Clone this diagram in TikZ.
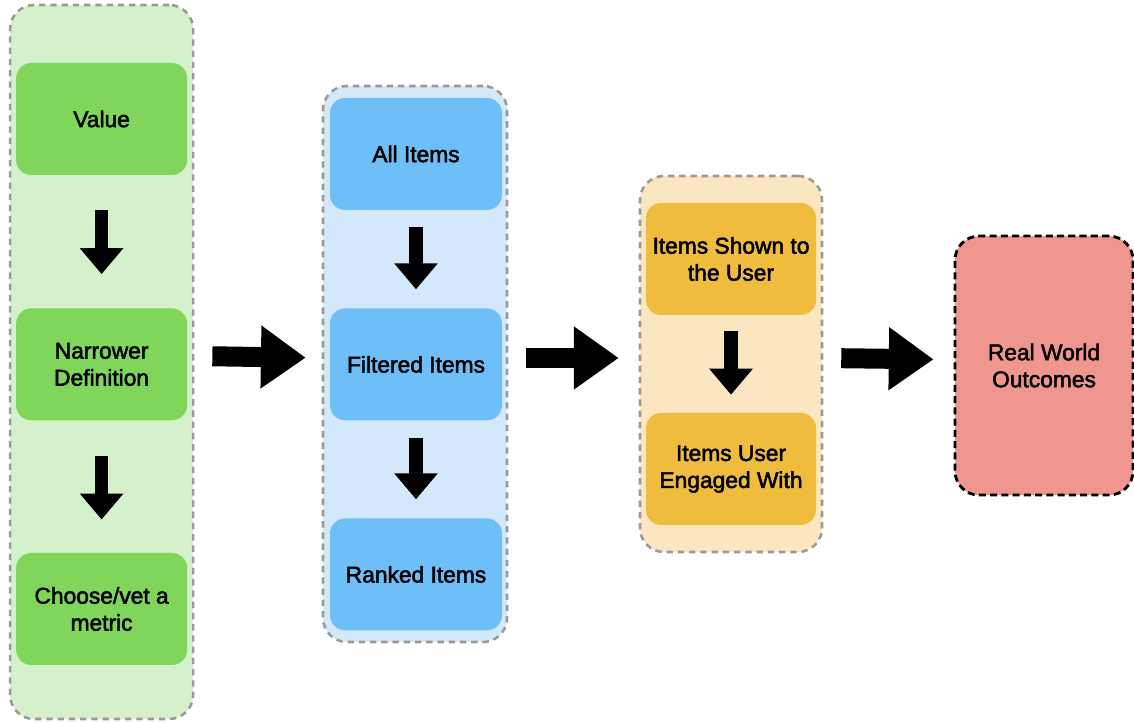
\documentclass[tikz,border=0pt]{standalone}
\usepackage{fontspec}
\setmainfont{Liberation Sans}
\newfontfamily\boxfont{Liberation Sans}[UprightFeatures={FakeBold=2.2}]
\usetikzlibrary{arrows.meta}
\definecolor{greenbg}{HTML}{D5F1CB}
\definecolor{greenbox}{HTML}{7FD65A}
\definecolor{bluebg}{HTML}{D4E8FB}
\definecolor{bluebox}{HTML}{6EBEF8}
\definecolor{orangebg}{HTML}{FAE6C0}
\definecolor{orangebox}{HTML}{EFBC3E}
\definecolor{redbox}{HTML}{EF978E}
\definecolor{dashgray}{HTML}{9A9A9A}
\begin{document}
\begin{tikzpicture}
\tikzstyle{group} = [draw=dashgray, line width=1.8pt, dash pattern=on 4.5pt off 3.5pt, rounded corners=0.6cm] % dashed container
\tikzstyle{stepbox} = [rounded corners=0.38cm, align=center, font=\boxfont\fontsize{16.2}{19.2}\selectfont] % inner box
\tikzstyle{downarrow} = [line width=0.33cm, -{Triangle[length=0.65cm, width=1.05cm]}] % arrow inside a group
\tikzstyle{rightarrow} = [line width=0.5cm, -{Triangle[length=1.12cm, width=1.5cm]}] % arrow between groups
\useasboundingbox (0,0) rectangle (28.35,18.05);

% groups
\node[group, fill=greenbg, minimum width=4.575cm, minimum height=17.85cm] (G1) at (2.54,9.0) {};
\node[group, fill=bluebg, minimum width=4.6cm, minimum height=13.9cm] (G2) at (10.375,8.95) {};
\node[group, fill=orangebg, minimum width=4.55cm, minimum height=9.4cm] (G3) at (18.275,8.95) {};

% left group: value to metric
\node[stepbox, fill=greenbox, minimum width=4.275cm, minimum height=2.8cm] (V) at (2.54,15.075) {Value};
\node[stepbox, fill=greenbox, minimum width=4.275cm, minimum height=2.8cm] (N) at (2.54,8.94) {Narrower\\Definition};
\node[stepbox, fill=greenbox, minimum width=4.275cm, minimum height=2.8cm] (M) at (2.54,2.825) {Choose/vet a\\metric};

% middle group: items
\node[stepbox, fill=bluebox, minimum width=4.3cm, minimum height=2.8cm] (A) at (10.4,14.2) {All Items};
\node[stepbox, fill=bluebox, minimum width=4.3cm, minimum height=2.8cm] (F) at (10.4,8.94) {Filtered Items};
\node[stepbox, fill=bluebox, minimum width=4.3cm, minimum height=2.8cm] (R) at (10.4,3.69) {Ranked Items};

% right group: user
\node[stepbox, fill=orangebox, minimum width=4.25cm, minimum height=2.8cm] (S) at (18.275,11.575) {Items Shown to\\the User};
\node[stepbox, fill=orangebox, minimum width=4.25cm, minimum height=2.8cm] (E) at (18.275,6.325) {Items User\\Engaged With};

% outcome
\node[stepbox, fill=redbox, draw=black, line width=2pt, dash pattern=on 5pt off 3pt, rounded corners=0.6cm, minimum width=4.45cm, minimum height=6.475cm] (O) at (26.1,8.91) {Real World\\Outcomes};

% arrows
\draw[downarrow, shorten <=0.875cm, shorten >=0.85cm] (V) -- (N);
\draw[downarrow, shorten <=0.875cm, shorten >=0.83cm] (N) -- (M);
\draw[downarrow, shorten <=0.425cm, shorten >=0.47cm] (A) -- (F);
\draw[downarrow, shorten <=0.425cm, shorten >=0.47cm] (F) -- (R);
\draw[downarrow, shorten <=0.4cm, shorten >=0.45cm] (S) -- (E);
\draw[rightarrow, shorten <=0.45cm, shorten >=0.4cm] ([yshift=0.15cm]G1.east) -- ([yshift=0.15cm]G2.west);
\draw[rightarrow, shorten <=0.45cm, shorten >=0.5cm] ([yshift=0.15cm]G2.east) -- ([yshift=0.15cm]G3.west);
\draw[rightarrow, shorten <=0.45cm, shorten >=0.5cm] ([yshift=0.15cm]G3.east) -- ([yshift=0.15cm]O.west);
\end{tikzpicture}
\end{document}
